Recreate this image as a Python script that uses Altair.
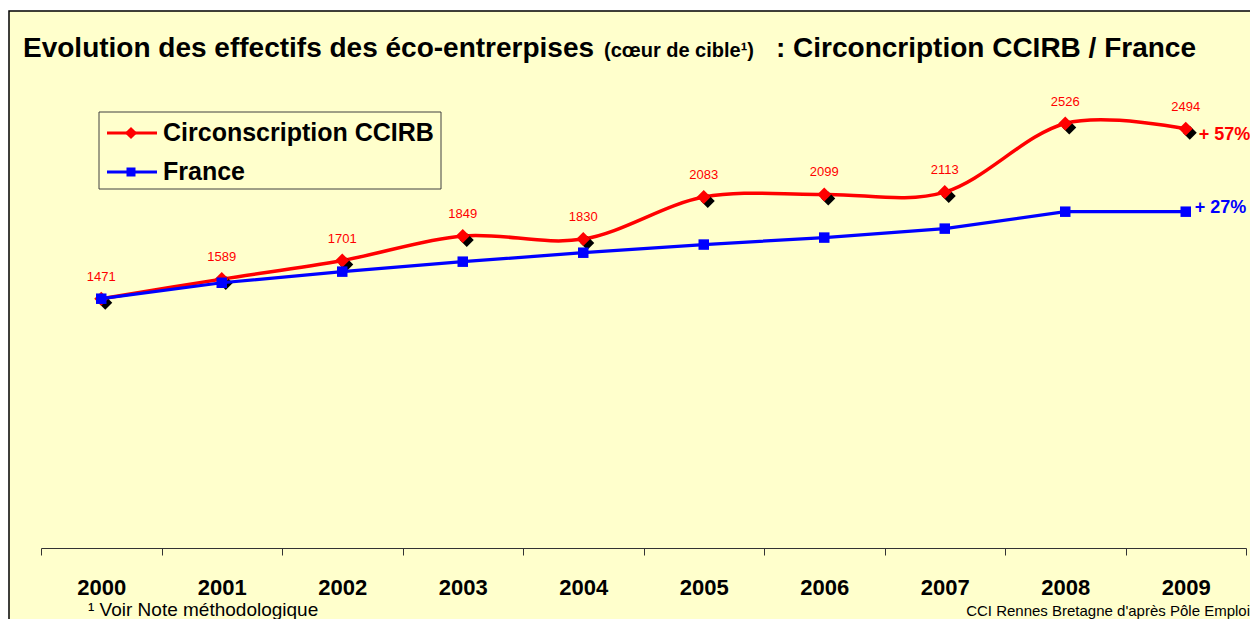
import altair as alt
import pandas as pd

# ---------------- data ----------------
years = ["2000", "2001", "2002", "2003", "2004", "2005", "2006", "2007", "2008", "2009"]
ccirb = [1471, 1589, 1701, 1849, 1830, 2083, 2099, 2113, 2526, 2494]
france = [1471, 1567, 1634, 1694, 1748, 1797, 1839, 1893, 1995, 1995]
series_names = ["Circonscription CCIRB", "France"]
growth_labels = ["+ 57%", "+ 27%"]

title_main = "Evolution des effectifs des éco-entrerpises"
title_small = "(cœur de cible¹)"
title_end = ": Circoncription CCIRB / France"
footnote = "¹ Voir Note méthodologique"
source = "CCI Rennes Bretagne d'après Pôle Emploi"

# ---------------- styles ----------------
RED = "#FF0000"
BLUE = "#0000FF"
BG = "#FFFFCC"
FONT = "Liberation Sans"

df = pd.DataFrame({"year": years, "ccirb": ccirb, "france": france})
last = pd.DataFrame({"year": [years[-1]], "ccirb": [ccirb[-1]], "france": [france[-1]],
                     "g_red": [growth_labels[0]], "g_blue": [growth_labels[1]]})
one = pd.DataFrame({"k": [0]})

x_enc = alt.X(
    "year:O",
    sort=years,
    scale=alt.Scale(type="band", paddingInner=0, paddingOuter=0),
    axis=alt.Axis(
        title=None, labelAngle=0, labelFontSize=22, labelFont=FONT,
        labelFontWeight="bold", labelColor="black", tickBand="extent",
        tickSize=7, tickColor="#333333", domainColor="#333333",
        tickWidth=1, domainWidth=1, offset=5, labelPadding=39,
        labelBaseline="alphabetic", grid=False, zindex=1,
    ),
)
yscale = alt.Scale(domain=[0, 2800], nice=False, zero=False)
y_c = alt.Y("ccirb:Q", scale=yscale, axis=None)
y_f = alt.Y("france:Q", scale=yscale, axis=None)

# background frame
frame = alt.Chart(one).mark_rect(fill=BG, stroke="black", strokeWidth=1.5).encode(
    x=alt.value(-32), x2=alt.value(1230), y=alt.value(-67), y2=alt.value(580)
)

base = alt.Chart(df)

red_line = base.mark_line(color=RED, strokeWidth=3.5, interpolate="cardinal", tension=0).encode(
    x=x_enc, y=y_c
)
red_shadow = base.mark_point(shape="diamond", filled=True, color="black", size=196,
                             opacity=1, xOffset=4, yOffset=4).encode(x=x_enc, y=y_c)
red_pts = base.mark_point(shape="diamond", filled=True, color=RED, size=196,
                          opacity=1).encode(x=x_enc, y=y_c)
red_labels = base.mark_text(color=RED, fontSize=13, font=FONT, dy=-22).encode(
    x=x_enc, y=y_c, text=alt.Text("ccirb:Q", format="d")
)

blue_line = base.mark_line(color=BLUE, strokeWidth=3.2).encode(x=x_enc, y=y_f)
blue_pts = base.mark_point(shape="square", filled=True, color=BLUE, size=110,
                           opacity=1).encode(x=x_enc, y=y_f)

lastc = alt.Chart(last)
red_growth = lastc.mark_text(color=RED, fontSize=18, fontWeight="bold", font=FONT,
                             align="left", dx=13, dy=6).encode(x=x_enc, y=y_c, text="g_red:N")
blue_growth = lastc.mark_text(color=BLUE, fontSize=18, fontWeight="bold", font=FONT,
                              align="left", dx=9, dy=-4).encode(x=x_enc, y=y_f, text="g_blue:N")

# titles
oc = alt.Chart(one)
t1 = oc.mark_text(text=title_main, fontSize=28, fontWeight="bold", font=FONT, align="left",
                  baseline="alphabetic", color="black").encode(x=alt.value(-18), y=alt.value(-21))
t2 = oc.mark_text(text=title_small, fontSize=20, fontWeight="bold", font=FONT, align="center",
                  baseline="alphabetic", color="black").encode(x=alt.value(638), y=alt.value(-21))
t3 = oc.mark_text(text=title_end, fontSize=28, fontWeight="bold", font=FONT, align="right",
                  baseline="alphabetic", color="black").encode(x=alt.value(1155), y=alt.value(-21))
foot = oc.mark_text(text=footnote, fontSize=19, font=FONT, align="left",
                    baseline="alphabetic", color="black").encode(x=alt.value(47), y=alt.value(538))
src = oc.mark_text(text=source, fontSize=15, font=FONT, align="right",
                   baseline="alphabetic", color="black").encode(x=alt.value(1209), y=alt.value(538))

# legend (drawn box)
leg_box = oc.mark_rect(fill=BG, stroke="#404040", strokeWidth=1).encode(
    x=alt.value(58), x2=alt.value(400), y=alt.value(34), y2=alt.value(111)
)
leg_r_line = oc.mark_rule(color=RED, strokeWidth=3).encode(
    x=alt.value(66), x2=alt.value(116), y=alt.value(55)
)
leg_r_pt = oc.mark_point(shape="diamond", filled=True, color=RED, size=150, opacity=1).encode(
    x=alt.value(90), y=alt.value(55)
)
leg_r_txt = oc.mark_text(text=series_names[0], fontSize=25, fontWeight="bold", font=FONT,
                         align="left", baseline="middle", color="black").encode(
    x=alt.value(122), y=alt.value(55)
)
leg_b_line = oc.mark_rule(color=BLUE, strokeWidth=3).encode(
    x=alt.value(66), x2=alt.value(116), y=alt.value(94)
)
leg_b_pt = oc.mark_point(shape="square", filled=True, color=BLUE, size=81, opacity=1).encode(
    x=alt.value(90), y=alt.value(94)
)
leg_b_txt = oc.mark_text(text=series_names[1], fontSize=25, fontWeight="bold", font=FONT,
                         align="left", baseline="middle", color="black").encode(
    x=alt.value(122), y=alt.value(94)
)

chart = alt.layer(
    frame,
    red_line, red_shadow, red_pts,
    blue_line, blue_pts,
    red_labels, red_growth, blue_growth,
    t1, t2, t3, foot, src,
    leg_box, leg_r_line, leg_r_pt, leg_r_txt, leg_b_line, leg_b_pt, leg_b_txt,
).properties(
    width=1205,
    height=465,
    padding={"left": 33, "top": 70, "right": 4, "bottom": 76},
    autosize=alt.AutoSizeParams(type="none"),
    background="white",
).configure_view(stroke=None)

chart.save("out.html", embed_options={"renderer": "svg", "actions": False})
